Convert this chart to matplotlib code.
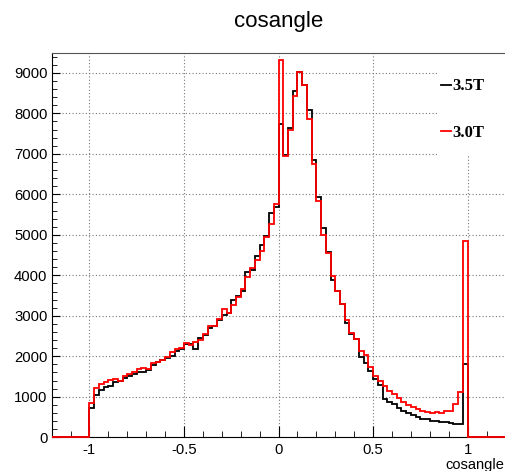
import numpy as np
import matplotlib
matplotlib.use("Agg")
import matplotlib.pyplot as plt
from matplotlib.patches import Rectangle
from matplotlib.ticker import MultipleLocator

# bin contents from -1 to 1 (bin width 0.025), histogram range is -1.2 .. 1.2
black_35T = [
    720, 1050, 1180, 1250, 1260, 1360, 1400, 1460, 1520, 1560,
    1600, 1620, 1650, 1790, 1850, 1900, 1950, 2000, 2140, 2180,
    2300, 2300, 2190, 2440, 2520, 2690, 2750, 2900, 3020, 3060,
    3390, 3500, 3620, 4070, 4130, 4480, 4750, 4980, 5530, 5700,
    7730, 6970, 7640, 8555, 9030, 8710, 8095, 6845, 5925, 5180,
    4580, 3885, 3620, 3290, 2830, 2540, 2420, 1990, 1825, 1645,
    1450, 1300, 950, 880, 830, 730, 660, 600, 540, 500,
    460, 440, 400, 410, 380, 370, 345, 330, 335, 1820,
]
red_30T = [
    840, 1210, 1310, 1370, 1420, 1450, 1390, 1510, 1560, 1620,
    1680, 1700, 1690, 1830, 1860, 1920, 1990, 2110, 2190, 2200,
    2320, 2280, 2360, 2400, 2560, 2750, 2750, 2920, 3170, 3070,
    3270, 3470, 3660, 3970, 4170, 4380, 4610, 4950, 5280, 5760,
    9330, 6950, 7585, 8425, 9025, 8710, 7870, 6760, 5830, 4995,
    4560, 3980, 3620, 3290, 2895, 2585, 2420, 2140, 2030, 1745,
    1520, 1390, 1260, 1150, 1060, 960, 880, 800, 740, 690,
    650, 620, 600, 620, 600, 650, 660, 820, 1125, 4850,
]
labels = ["3.5T", "3.0T"]

X_MIN, X_MAX, N_BINS = -1.2, 1.2, 96
edges = np.linspace(X_MIN, X_MAX, N_BINS + 1)
pad = np.zeros(8)
h_black = np.concatenate([pad, black_35T, pad])
h_red = np.concatenate([pad, red_30T, pad])

sans = "Liberation Sans"
fig = plt.figure(figsize=(5.06, 4.71), dpi=100)
ax = fig.add_axes([0.102, 0.0716, 0.897, 0.815])

ax.set_xlim(X_MIN, X_MAX)
ax.set_ylim(0, max(h_black) * 1.05)

ax.set_axisbelow(True)
ax.grid(True, which="major", color="#777777", linestyle=(0, (1, 2)), linewidth=0.8)

s1 = ax.stairs(h_black, edges, color="black", linewidth=1.3, label=labels[0], clip_on=False, zorder=3)
s2 = ax.stairs(h_red, edges, color="red", linewidth=1.3, label=labels[1], clip_on=False, zorder=4)

ax.xaxis.set_major_locator(MultipleLocator(0.5))
ax.xaxis.set_minor_locator(MultipleLocator(0.1))
ax.yaxis.set_major_locator(MultipleLocator(1000))
ax.yaxis.set_minor_locator(MultipleLocator(200))
ax.tick_params(axis="both", which="both", direction="in", top=False, right=False)
ax.tick_params(axis="x", which="major", length=8, pad=4)
ax.tick_params(axis="x", which="minor", length=4)
ax.tick_params(axis="y", which="major", length=6, pad=3)
ax.tick_params(axis="y", which="minor", length=3.5)
ax.set_xticks([-1, -0.5, 0, 0.5, 1])
ax.set_xticklabels(["-1", "-0.5", "0", "0.5", "1"])
for lab in ax.get_xticklabels() + ax.get_yticklabels():
    lab.set_family(sans)
    lab.set_fontsize(10.7)

ax.spines["right"].set_visible(False)
ax.spines["top"].set_color("#555555")

ax.set_xlabel("cosangle", family=sans, fontsize=10.5, ha="right", va="center")
ax.xaxis.set_label_coords(0.998, -0.072)

fig.text(0.551, 0.955, "cosangle", family=sans, fontsize=16, ha="center", va="center")

# white legend box hiding grid lines, as in ROOT
ax.add_patch(Rectangle((0.851, 0.733), 0.16, 0.265, transform=ax.transAxes,
                       facecolor="white", edgecolor="none", zorder=2.5, clip_on=False))
ax.legend(handles=[s1, s2], loc="upper left", bbox_to_anchor=(0.857, 0.935),
          frameon=False, borderpad=0, borderaxespad=0,
          handlelength=0.65, handletextpad=0.05, labelspacing=1.85,
          prop={"family": "Liberation Serif", "weight": "bold", "size": 12})

fig.savefig("out.png", dpi=100)
